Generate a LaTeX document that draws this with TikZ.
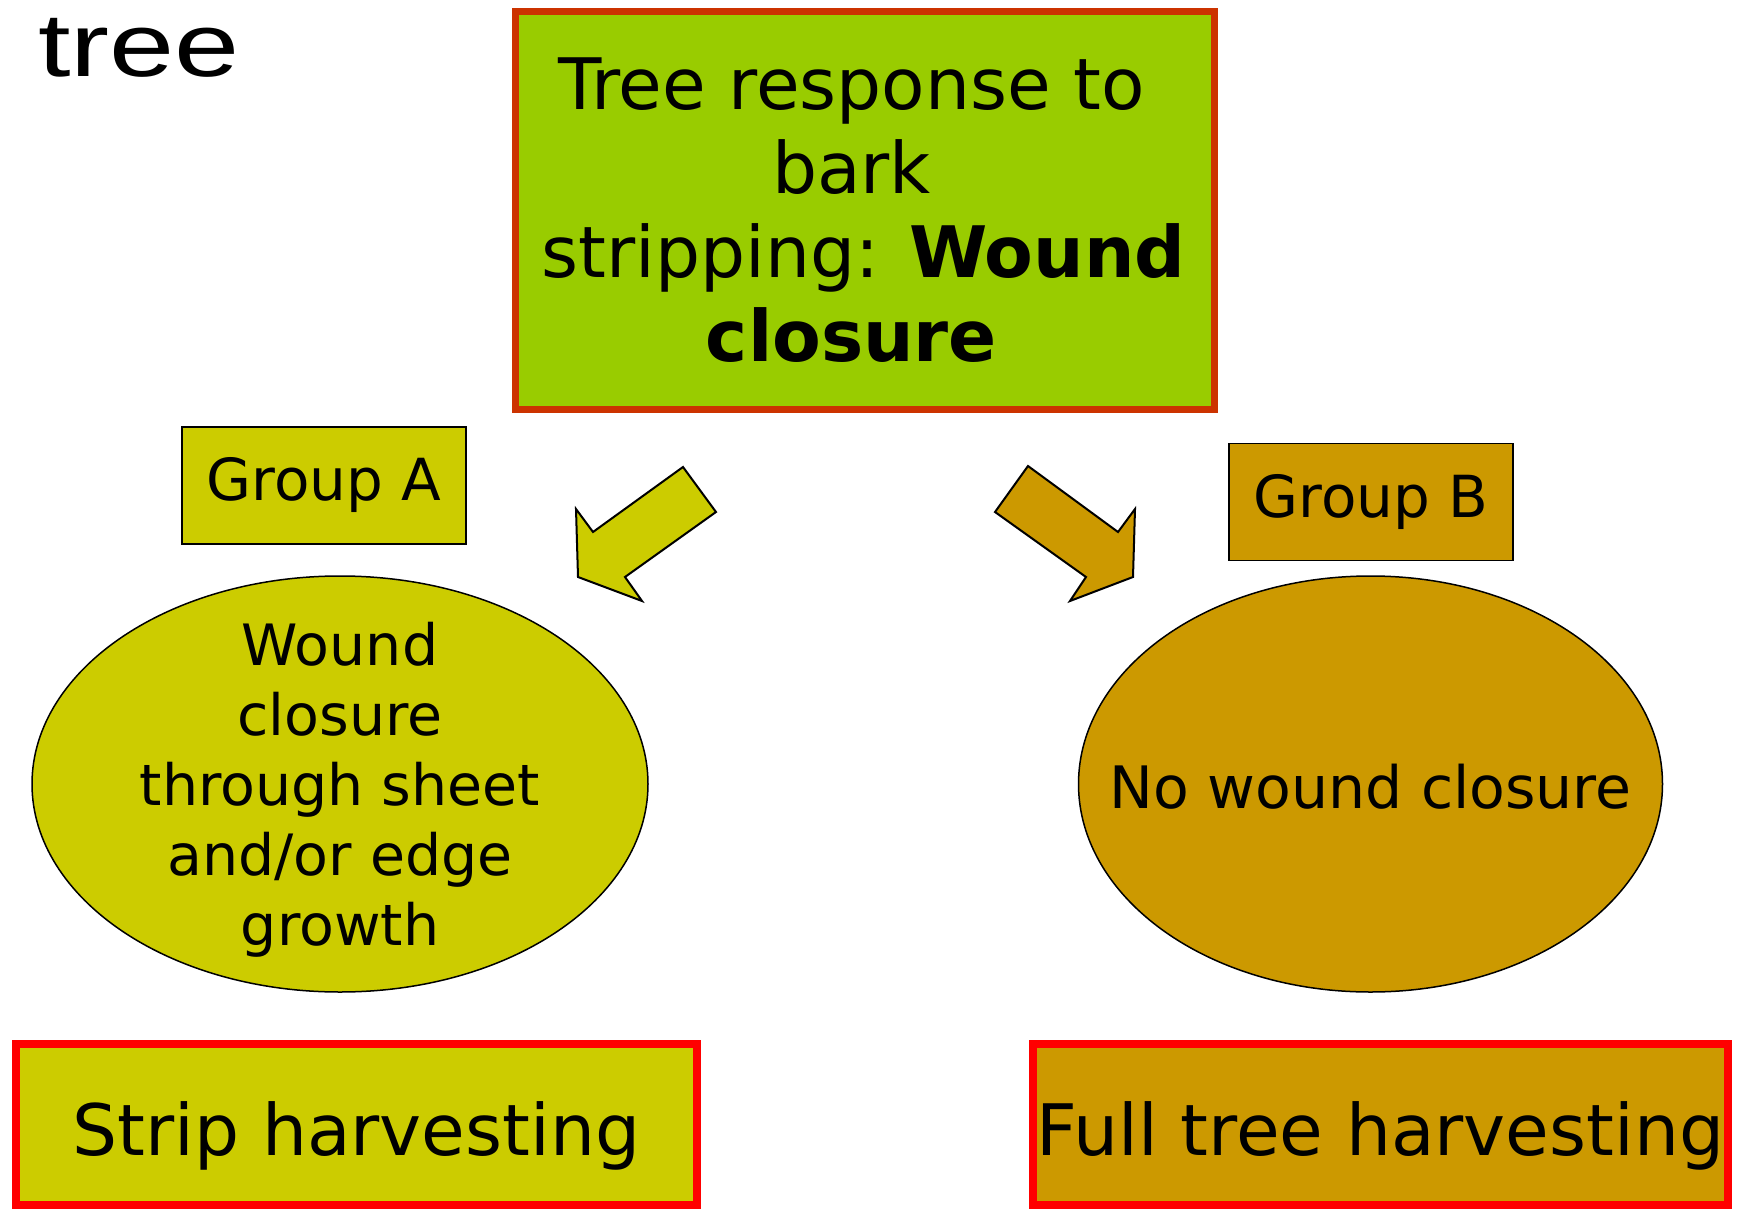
\documentclass[tikz,border=0pt]{standalone}
\usepackage{fontspec}
\setmainfont{DejaVu Sans}
\newfontfamily\treefont{Liberation Sans}[FakeStretch=1.3]
\usepackage{xcolor}
\usetikzlibrary{shapes.geometric}

\definecolor{leafgreen}{HTML}{99CC00}
\definecolor{rustred}{HTML}{CC3300}
\definecolor{olivefill}{HTML}{CCCC00}
\definecolor{goldfill}{HTML}{CC9900}
\definecolor{brightred}{HTML}{FF0000}

\begin{document}
\begin{tikzpicture}[
  x=1pt, y=-1pt,
  topbox/.style={rectangle, draw=rustred, line width=7pt, fill=leafgreen, minimum width=699pt, minimum height=397pt, inner sep=0pt},
  groupbox/.style={rectangle, draw, line width=1.5pt, minimum width=284pt, minimum height=117pt, inner sep=0pt, font=\fontsize{58}{70}\selectfont},
  oval/.style={ellipse, draw, line width=1.5pt, inner sep=0pt},
  harvest/.style={rectangle, draw=brightred, line width=8pt, minimum height=161pt, inner sep=0pt, text height=62pt, text depth=0pt, font=\fontsize{71}{84}\selectfont},
  blockarrow/.style={draw, line width=2pt, line join=miter}
]
\useasboundingbox (0,0) rectangle (1740,1209);

\node[anchor=base west, inner sep=0pt, font=\treefont\fontsize{90}{96}\selectfont] (title) at (38,77) {tree};

\node[topbox, label={[align=center, font=\fontsize{71}{84}\selectfont, xshift=-13pt]center:Tree response to\\bark\\\hspace*{24pt}stripping: \textbf{Wound}\\\textbf{closure}}] (resp) at (864.5,210.5) {};

\node[groupbox, fill=olivefill] (grpA) at (324,485.5) {Group A};
\node[groupbox, fill=goldfill] (grpB) at (1371,502) {Group B};

\node[oval, fill=olivefill, minimum width=616pt, minimum height=416pt,
  label={[align=center, font=\fontsize{57}{70}\selectfont, yshift=-6pt]center:Wound\\closure\\through sheet\\and/or edge\\growth}] (closed) at (340,784) {};
\node[oval, fill=goldfill, minimum width=584pt, minimum height=416pt,
  label={[font=\fontsize{58.5}{70}\selectfont, yshift=-3pt]center:No wound closure}] (open) at (1370.5,784) {};

\node[harvest, fill=olivefill, minimum width=681pt] (strip) at (356.5,1124) {Strip harvesting};
\node[harvest, fill=goldfill, minimum width=695pt] (full) at (1380.5,1124) {Full tree harvesting};

% block arrows
\draw[blockarrow, fill=olivefill] (683,467) -- (716,512) -- (625,577) -- (642,601) -- (578,577) -- (576,509) -- (593,532) -- cycle;
\draw[blockarrow, fill=goldfill] (1028,466) -- (1118,532) -- (1135,509) -- (1133,577) -- (1070,601) -- (1086,577) -- (995,512) -- cycle;
\end{tikzpicture}
\end{document}
